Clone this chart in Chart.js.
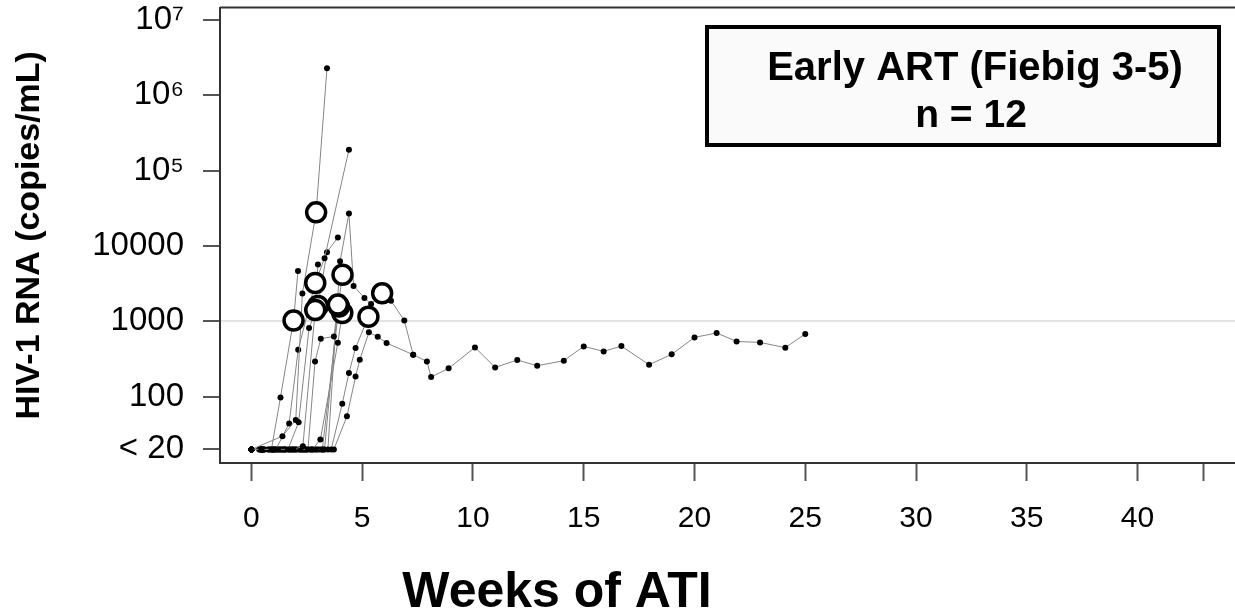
<!DOCTYPE html>
<html>
<head>
<meta charset="utf-8">
<script src="https://cdn.jsdelivr.net/npm/chart.js@4.4.1/dist/chart.umd.min.js"></script>
<style>
  html, body { margin: 0; padding: 0; background: #fff; }
</style>
</head>
<body>
<canvas id="chart" width="1235" height="615"></canvas>
<script>
// weeks of ATI vs HIV-1 RNA, one array per participant ([week, copies/mL]; 20 = below limit)
const pt01 = [[0,20],[0.45,20],[0.9,20],[1.31,98],[1.9,1030],[2.1,4660]];
const pt02 = [[0,20],[1.4,30],[2.0,49],[2.3,2350],[2.92,28000],[3.41,2290000]];
const pt03 = [[0,20],[0.55,20],[1.1,20],[1.7,44],[2.11,421],[2.88,3240],[3.3,6900],[4.4,190000]];
const pt04 = [[0,20],[0.35,20],[0.75,20],[1.2,20],[1.65,20],[2.13,46],[2.6,817],[3.0,1600],[3.41,8300],[3.9,13000]];
const pt05 = [[0,20],[0.5,20],[1.0,20],[1.45,20],[1.9,20],[2.32,22],[2.88,1420],[3.0,5700]];
const pt06 = [[0,20],[0.4,20],[0.85,20],[1.3,20],[1.75,20],[2.2,20],[2.55,20],[2.87,294],[3.13,589],[3.72,632],[4.11,4170]];
const pt07 = [[0,20],[0.6,20],[1.15,20],[1.55,20],[2.0,20],[2.4,20],[2.75,20],[3.11,27],[3.9,520],[4.1,1290]];
const pt08 = [[0,20],[0.5,20],[1.05,20],[1.5,20],[2.05,20],[2.45,20],[2.9,20],[3.2,20],[3.95,1580]];
const pt09 = [[0,20],[0.45,20],[0.95,20],[1.35,20],[1.8,20],[2.25,20],[2.65,20],[3.05,20],[3.45,20],
              [4.0,6300],[4.4,27000],[4.61,2950],[5.1,2050],[5.4,1700],[5.9,2360],[6.3,1880],[6.9,1030],
              [7.3,361],[7.92,294],[8.11,183],[8.9,238],[10.09,452],[11.0,245],[12.0,307],[12.9,258],
              [14.1,301],[15.0,466],[15.9,400],[16.7,471],[17.95,266],[18.97,365],[20.0,613],[21.0,702],
              [21.9,542],[22.96,526],[24.1,448],[25.0,681]];
const pt10 = [[0,20],[0.5,20],[0.95,20],[1.4,20],[1.85,20],[2.3,20],[2.7,20],[3.15,20],[3.6,20],[4.1,81],[4.4,207],[4.7,444],[5.28,1150]];
const pt11 = [[0,20],[0.55,20],[1.0,20],[1.5,20],[1.95,20],[2.35,20],[2.8,20],[3.25,20],[3.72,20],[4.31,55],[4.7,185],[4.89,309],[5.3,715],[5.7,626],[6.1,516],[7.3,361]];
const pt12 = [[0,20],[0.4,20],[0.8,20],[1.25,20],[1.7,20],[2.15,20],[2.5,20],[2.95,20],[3.3,20],[3.9,1670]];

const participants = [pt01, pt02, pt03, pt04, pt05, pt06, pt07, pt08, pt09, pt10, pt11, pt12];
// index of the open-circle point in each participant (-1 = none)
const reboundIdx = [4, 4, 5, 7, 6, 10, 9, 8, 14, 12, -1, 9];

const xTicks = [0, 5, 10, 15, 20, 25, 30, 35, 40, 43];
const yTickValues = [20, 100, 1000, 10000, 100000, 1000000, 10000000];
const yTickLabels = ['< 20', '100', '1000', '10000', '10\u2075', '10\u2076', '10\u2077'];

const xTitle = 'Weeks of ATI';
const yTitle = 'HIV-1 RNA (copies/mL)';
const boxLines = ['Early ART (Fiebig 3-5)', 'n = 12'];

const FONT = 'Arial, "Liberation Sans", sans-serif';

const toPts = arr => arr.map(([x, y]) => ({x, y}));

const lineSets = participants.map(p => ({
    data: toPts(p),
    showLine: true,
    borderColor: '#858585',
    borderWidth: 1,
    pointRadius: 3,
    pointBorderWidth: 0,
    pointBackgroundColor: '#000',
    order: 1
}));

const circleSet = {
    data: participants.map((p, i) => reboundIdx[i] >= 0 ? p[reboundIdx[i]] : null)
                      .filter(Boolean).map(([x, y]) => ({x, y})),
    showLine: false,
    pointRadius: 9.5,
    pointBorderWidth: 3.5,
    pointBorderColor: '#000',
    pointBackgroundColor: '#fff',
    order: 0
};

const noPad = s => { s.paddingLeft = 0; s.paddingRight = 0; s.paddingTop = 0; s.paddingBottom = 0; };

const decor = {
    id: 'decor',
    afterDraw(chart) {
        const {ctx, chartArea: a} = chart;
        ctx.save();
        // top of the frame
        ctx.strokeStyle = '#333';
        ctx.lineWidth = 2;
        ctx.beginPath();
        ctx.moveTo(a.left, a.top);
        ctx.lineTo(a.right, a.top);
        ctx.stroke();

        // x axis title (sits left of the axis centre in the original)
        ctx.fillStyle = '#000';
        ctx.textAlign = 'center';
        ctx.textBaseline = 'alphabetic';
        ctx.font = 'bold 50px ' + FONT;
        ctx.fillText(xTitle, 557, 607);

        // label box
        ctx.fillStyle = '#fafafa';
        ctx.fillRect(707, 27, 512, 118);
        ctx.strokeStyle = '#000';
        ctx.lineWidth = 4;
        ctx.strokeRect(707, 27, 512, 118);
        ctx.fillStyle = '#000';
        ctx.font = 'bold 40px ' + FONT;
        ctx.fillText(boxLines[0], 975, 80);
        ctx.font = 'bold 39px ' + FONT;
        ctx.fillText(boxLines[1], 971, 127);
        ctx.restore();
    }
};

new Chart(document.getElementById('chart'), {
    type: 'scatter',
    data: { datasets: [...lineSets, circleSet] },
    options: {
        responsive: false,
        animation: false,
        layout: { autoPadding: false, padding: { top: 7.5, right: 0, bottom: 0, left: 0 } },
        plugins: { legend: { display: false }, tooltip: { enabled: false } },
        scales: {
            x: {
                type: 'linear',
                min: -1.42,
                max: 44.4,
                afterBuildTicks: s => { s.ticks = xTicks.map(v => ({value: v})); },
                afterFit: s => { s.height = 152; noPad(s); },
                border: { display: true, color: '#333', width: 2 },
                grid: { drawOnChartArea: false, drawTicks: true, tickLength: 18, tickColor: '#555', tickWidth: 2 },
                ticks: {
                    padding: 20,
                    color: '#000',
                    font: { family: FONT, size: 30 },
                    callback: v => v === 43 ? '' : String(v)
                }
            },
            y: {
                type: 'logarithmic',
                min: 13.2,
                max: 1.466e7,
                afterBuildTicks: s => { s.ticks = yTickValues.map(v => ({value: v})); },
                afterFit: s => { s.width = 220; noPad(s); },
                border: { display: true, color: '#333', width: 2 },
                grid: {
                    drawOnChartArea: true,
                    drawTicks: true,
                    tickLength: 17,
                    tickColor: '#555',
                    tickWidth: 2,
                    lineWidth: 2,
                    color: c => (c.tick && c.tick.value === 1000) ? '#e4e4e4' : 'rgba(0,0,0,0)'
                },
                ticks: {
                    padding: 19,
                    color: '#000',
                    font: { family: FONT, size: 33 },
                    callback: v => yTickLabels[yTickValues.indexOf(v)] ?? ''
                },
                title: {
                    display: true,
                    text: yTitle,
                    color: '#000',
                    font: { family: FONT, size: 34, weight: 'bold' },
                    padding: { top: 9, bottom: 0 }
                }
            }
        }
    },
    plugins: [decor]
});
</script>
</body>
</html>
